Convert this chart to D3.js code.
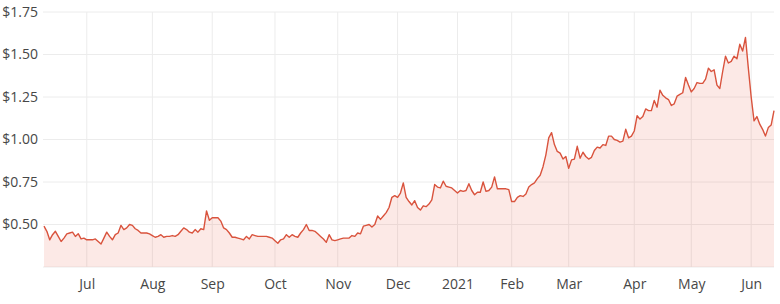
<!DOCTYPE html>
<html>
<head>
<meta charset="utf-8">
<script src="https://cdn.jsdelivr.net/npm/d3@7"></script>
<style>
  body { margin: 0; background: #fff; }
  svg text { font-family: "Open Sans", sans-serif; font-size: 14px; fill: #474747; }
</style>
</head>
<body>
<svg id="chart" width="780" height="304"></svg>
<script>
// daily closing prices, mid-June 2020 to mid-June 2021 (trading days only)
const prices = [
  0.49, 0.46, 0.41, 0.44, 0.46, 0.43, 0.40, 0.42, 0.445, 0.45,
  0.455, 0.43, 0.446, 0.415, 0.42, 0.41, 0.41, 0.41, 0.415, 0.40,
  0.385, 0.42, 0.455, 0.43, 0.41, 0.44, 0.45, 0.495, 0.47, 0.48,
  0.50, 0.495, 0.475, 0.465, 0.45, 0.45, 0.45, 0.445, 0.435, 0.425,
  0.43, 0.44, 0.425, 0.43, 0.43, 0.435, 0.43, 0.44, 0.46, 0.48,
  0.47, 0.455, 0.45, 0.47, 0.455, 0.475, 0.47, 0.58, 0.525, 0.54,
  0.54, 0.54, 0.52, 0.48, 0.47, 0.45, 0.425, 0.425, 0.42, 0.415,
  0.41, 0.43, 0.415, 0.44, 0.435, 0.43, 0.43, 0.43, 0.43, 0.425,
  0.42, 0.405, 0.39, 0.41, 0.415, 0.44, 0.425, 0.44, 0.43, 0.425,
  0.45, 0.47, 0.50, 0.465, 0.465, 0.46, 0.445, 0.43, 0.415, 0.395,
  0.44, 0.41, 0.405, 0.41, 0.415, 0.42, 0.42, 0.42, 0.435, 0.43,
  0.45, 0.445, 0.49, 0.495, 0.50, 0.485, 0.50, 0.55, 0.53, 0.55,
  0.57, 0.60, 0.66, 0.67, 0.66, 0.685, 0.745, 0.66, 0.635, 0.615,
  0.64, 0.60, 0.585, 0.61, 0.605, 0.62, 0.645, 0.735, 0.72, 0.715,
  0.755, 0.725, 0.72, 0.715, 0.70, 0.685, 0.70, 0.695, 0.70, 0.74,
  0.70, 0.675, 0.69, 0.69, 0.75, 0.695, 0.70, 0.72, 0.78, 0.71,
  0.71, 0.71, 0.71, 0.705, 0.635, 0.635, 0.66, 0.67, 0.665, 0.68,
  0.72, 0.735, 0.745, 0.77, 0.79, 0.84, 0.91, 1.01, 1.04, 0.97,
  0.93, 0.92, 0.885, 0.90, 0.83, 0.88, 0.885, 0.96, 0.89, 0.925,
  0.90, 0.885, 0.895, 0.935, 0.955, 0.95, 0.97, 0.965, 1.02, 1.02,
  1.00, 0.995, 0.985, 0.99, 1.06, 1.01, 1.02, 1.05, 1.14, 1.12,
  1.135, 1.18, 1.17, 1.17, 1.23, 1.19, 1.29, 1.26, 1.245, 1.235,
  1.20, 1.21, 1.255, 1.265, 1.275, 1.365, 1.32, 1.28, 1.30, 1.335,
  1.33, 1.33, 1.355, 1.42, 1.40, 1.41, 1.32, 1.30, 1.40, 1.49,
  1.45, 1.46, 1.49, 1.475, 1.56, 1.52, 1.60, 1.42, 1.25, 1.11,
  1.135, 1.09, 1.06, 1.02, 1.07, 1.085, 1.17
];

// first trading day of each month, as index into prices
const monthLabels = ["Jul", "Aug", "Sep", "Oct", "Nov", "Dec", "2021", "Feb", "Mar", "Apr", "May", "Jun"];
const monthIndex  = [15, 38, 59, 81, 103, 124, 145, 164, 184, 207, 227, 248];

const yTicks = [0.5, 0.75, 1.0, 1.25, 1.5, 1.75];

const svg = d3.select("#chart");
const margin = {top: 12, right: 6, bottom: 37, left: 44};
const width = +svg.attr("width"), height = +svg.attr("height");

const x = d3.scaleLinear()
    .domain([0, prices.length - 1])
    .range([margin.left, width - margin.right]);

const y = d3.scaleLinear()
    .domain([0.25, 1.75])
    .range([height - margin.bottom, margin.top]);

// grid
const grid = svg.append("g").attr("class", "grid");
grid.selectAll("line.h")
  .data([0.25].concat(yTicks))
  .enter().append("line")
    .attr("x1", margin.left - 1).attr("x2", width - margin.right)
    .attr("y1", d => y(d)).attr("y2", d => y(d))
    .attr("stroke", "#ececec").attr("stroke-width", 1);
grid.selectAll("line.v")
  .data(monthIndex)
  .enter().append("line")
    .attr("x1", d => x(d)).attr("x2", d => x(d))
    .attr("y1", margin.top).attr("y2", height - margin.bottom)
    .attr("stroke", "#ececec").attr("stroke-width", 1);

// area + line
const area = d3.area()
    .x((d, i) => x(i))
    .y0(y(0.25))
    .y1(d => y(d));
const line = d3.line()
    .x((d, i) => x(i))
    .y(d => y(d));

svg.append("path")
    .datum(prices)
    .attr("d", area)
    .attr("fill", "#e8583f")
    .attr("fill-opacity", 0.13);

svg.append("path")
    .datum(prices)
    .attr("d", line)
    .attr("fill", "none")
    .attr("stroke", "#d9533d")
    .attr("stroke-width", 1.4)
    .attr("stroke-linejoin", "round");

// axes
const yAxis = d3.axisLeft(y)
    .tickValues(yTicks)
    .tickFormat(d => "$" + d3.format(".2f")(d))
    .tickSize(0)
    .tickPadding(6);
svg.append("g")
    .attr("transform", `translate(${margin.left},0)`)
    .call(yAxis)
    .call(g => g.select(".domain").remove());

const xAxis = d3.axisBottom(x)
    .tickValues(monthIndex)
    .tickFormat((d, i) => monthLabels[i])
    .tickSize(0)
    .tickPadding(12);
svg.append("g")
    .attr("transform", `translate(0,${height - margin.bottom})`)
    .call(xAxis)
    .call(g => g.select(".domain").remove());

svg.selectAll(".tick text").attr("font-family", null).attr("font-size", null).attr("fill", null);
</script>
</body>
</html>
